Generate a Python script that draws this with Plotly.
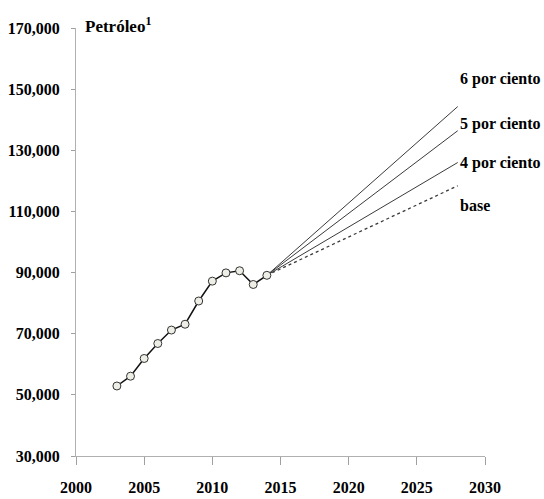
import plotly.graph_objects as go

years = [2003, 2004, 2005, 2006, 2007, 2008, 2009, 2010, 2011, 2012, 2013, 2014]
petroleo = [52900, 56100, 61900, 66800, 71200, 73100, 80700, 87200, 89900, 90600, 86100, 89100]

proj_years = [2014, 2028]
proj_6 = [89100, 144300]
proj_5 = [89100, 136400]
proj_4 = [89100, 126000]
proj_base = [89100, 118400]

scenario_labels = ["6 por ciento", "5 por ciento", "4 por ciento", "base"]
scenario_label_y = [153400, 138700, 125900, 112100]

x_ticks = [2000, 2005, 2010, 2015, 2020, 2025, 2030]
y_ticks = [30000, 50000, 70000, 90000, 110000, 130000, 150000, 170000]

FONT = "Liberation Serif, Times New Roman, serif"
fig = go.Figure()

for ys in (proj_6, proj_5, proj_4):
    fig.add_trace(go.Scatter(x=proj_years, y=ys, mode="lines",
                             line=dict(color="#3a3a3a", width=1), showlegend=False,
                             hoverinfo="skip"))
fig.add_trace(go.Scatter(x=proj_years, y=proj_base, mode="lines",
                         line=dict(color="#3a3a3a", width=1.3, dash="dot"), showlegend=False,
                         hoverinfo="skip"))
fig.add_trace(go.Scatter(x=years, y=petroleo, mode="lines+markers",
                         line=dict(color="#111111", width=1.5),
                         marker=dict(symbol="circle", size=8, color="#eeeee6",
                                     line=dict(color="#333333", width=1)),
                         showlegend=False))

for lab, yv in zip(scenario_labels, scenario_label_y):
    fig.add_annotation(x=2028.0, y=yv, xref="x", yref="y", text=lab, showarrow=False,
                       xanchor="left", yanchor="middle",
                       font=dict(family=FONT, size=16, color="#000000", weight="bold"))

fig.add_annotation(x=0.017, y=1.008, xref="paper", yref="paper", text="Petróleo<sup>1</sup>",
                   showarrow=False, xanchor="left", yanchor="middle",
                   font=dict(family=FONT, size=17, color="#000000", weight="bold"))

axis_common = dict(showgrid=False, zeroline=False, showline=True, linecolor="#b0b0b0",
                   linewidth=1.2, ticks="outside", tickcolor="#a0a0a0", automargin=False,
                   tickfont=dict(family=FONT, size=16, color="#000000", weight="bold"))

fig.update_xaxes(range=[2000, 2030], tickvals=x_ticks, ticklen=8, ticklabelstandoff=9,
                 **axis_common)
fig.update_yaxes(range=[30000, 170000], tickvals=y_ticks, tickformat=",", ticklen=4,
                 ticklabelstandoff=8, **axis_common)

fig.update_layout(width=544, height=499, margin=dict(l=76, r=59, t=28, b=43),
                  plot_bgcolor="white", paper_bgcolor="white")

# remove the default page margin so the 544x499 figure fills the window exactly
fig.write_html("out.html", config={"displayModeBar": False},
               post_script="document.body.style.margin='0';document.body.style.overflow='hidden';")
